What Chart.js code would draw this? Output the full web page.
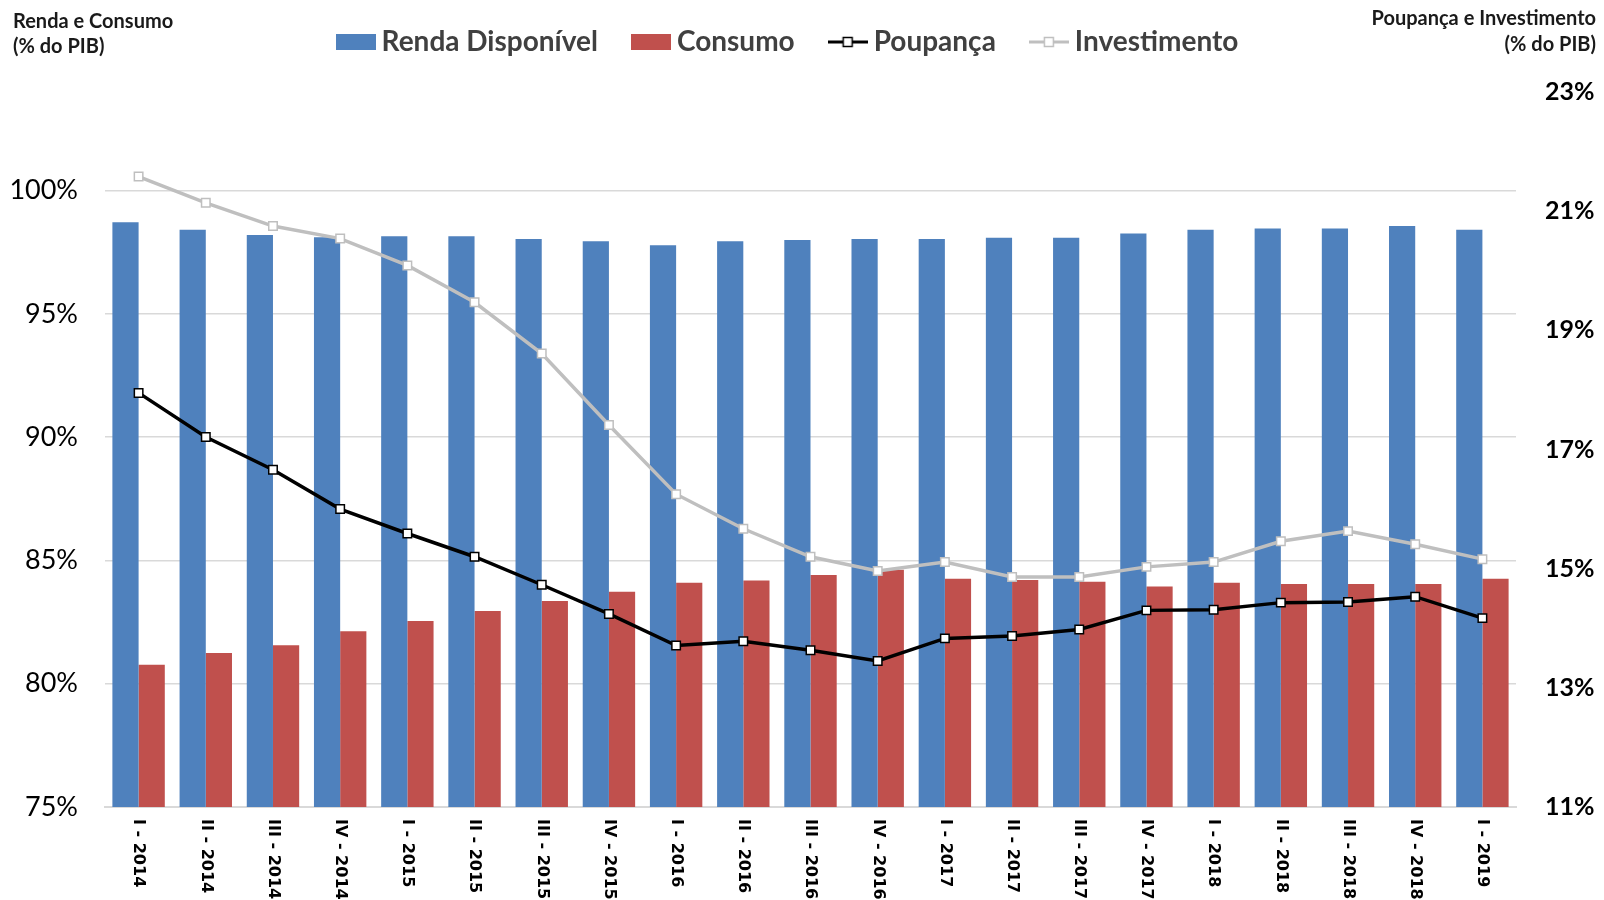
<!DOCTYPE html>
<html>
<head>
<meta charset="utf-8">
<script src="https://cdn.jsdelivr.net/npm/chart.js@4"></script>
<style>
  body { margin: 0; background: #fff; }
  #wrap { width: 1604px; height: 900px; position: relative; }
</style>
</head>
<body>
<div id="wrap"><canvas id="chart"></canvas></div>
<script>
const quarters = ['I - 2014', 'II - 2014', 'III - 2014', 'IV - 2014',
  'I - 2015', 'II - 2015', 'III - 2015', 'IV - 2015',
  'I - 2016', 'II - 2016', 'III - 2016', 'IV - 2016',
  'I - 2017', 'II - 2017', 'III - 2017', 'IV - 2017',
  'I - 2018', 'II - 2018', 'III - 2018', 'IV - 2018', 'I - 2019'];

// % do PIB, eixo esquerdo
const renda = [98.72, 98.41, 98.2, 98.11, 98.15, 98.15, 98.04, 97.95, 97.78, 97.95, 98.0,
  98.04, 98.04, 98.09, 98.09, 98.26, 98.41, 98.46, 98.46, 98.56, 98.41];
const consumo = [80.77, 81.25, 81.56, 82.13, 82.54, 82.95, 83.36, 83.73, 84.1, 84.19, 84.41,
  84.62, 84.26, 84.21, 84.14, 83.94, 84.1, 84.04, 84.04, 84.04, 84.26];

// % do PIB, eixo direito
const poupanca = [17.95, 17.21, 16.66, 16.0, 15.59, 15.2, 14.73, 14.24, 13.71, 13.78, 13.63,
  13.45, 13.83, 13.87, 13.98, 14.3, 14.31, 14.43, 14.44, 14.53, 14.17];
const investimento = [21.58, 21.14, 20.75, 20.54, 20.09, 19.47, 18.61, 17.41, 16.25, 15.67, 15.2,
  14.96, 15.11, 14.86, 14.86, 15.03, 15.11, 15.46, 15.63, 15.41, 15.16];

const leftTicks = [75, 80, 85, 90, 95, 100];
const rightTicks = [11, 13, 15, 17, 19, 21, 23];

const BLUE = '#4f81bd';
const RED = '#c0504d';
const GRAY = '#bfbfbf';

// legend swatches
function swatch(kind, color) {
  const c = document.createElement('canvas');
  c.width = 40; c.height = 18;
  const g = c.getContext('2d');
  if (kind === 'box') {
    g.fillStyle = color;
    g.fillRect(0, 1, 40, 16);
  } else {
    g.strokeStyle = color;
    g.lineWidth = 3;
    g.beginPath(); g.moveTo(0, 9); g.lineTo(40, 9); g.stroke();
    g.fillStyle = '#fff';
    g.lineWidth = 1.5;
    g.fillRect(15.5, 4.5, 9, 9);
    g.strokeRect(15.5, 4.5, 9, 9);
  }
  return c;
}

const extras = {
  id: 'extras',
  beforeInit(chart) {
    const fit = chart.legend.fit;
    chart.legend.fit = function () {
      fit.bind(chart.legend)();
      this.height = 92;
    };
  },
  afterLayout(chart) {
    // nudge legend up/left like the original
    const lg = chart.legend;
    lg.top -= 13; lg.bottom -= 13;
    lg.left -= 11; lg.right -= 11;
  },
  afterDraw(chart) {
    const ctx = chart.ctx;
    const x = chart.scales.x;
    ctx.save();
    ctx.fillStyle = '#000';
    ctx.font = 'bold 16px "DejaVu Sans"';
    ctx.textAlign = 'left';
    ctx.textBaseline = 'middle';
    quarters.forEach((q, i) => {
      ctx.save();
      ctx.translate(x.getPixelForTick(i), chart.chartArea.bottom + 12);
      ctx.rotate(Math.PI / 2);
      ctx.fillText(q, 0, 0);
      ctx.restore();
    });
    ctx.font = 'bold 20px Lato';
    ctx.fillStyle = '#1a1a1a';
    ctx.textAlign = 'left';
    ctx.fillText('Renda e Consumo', 13, 22);
    ctx.fillText('(% do PIB)', 13, 47);
    ctx.textAlign = 'right';
    ctx.fillText('Poupança e Investimento', 1596, 19);
    ctx.fillText('(% do PIB)', 1596, 45);
    ctx.restore();
  }
};

new Chart(document.getElementById('chart'), {
  data: {
    labels: quarters,
    datasets: [
      { type: 'bar', label: 'Renda Disponível', data: renda, yAxisID: 'y',
        backgroundColor: BLUE, order: 2 },
      { type: 'bar', label: 'Consumo', data: consumo, yAxisID: 'y',
        backgroundColor: RED, order: 2 },
      { type: 'line', label: 'Poupança', data: poupanca, yAxisID: 'y1',
        borderColor: '#000', borderWidth: 3.5, pointStyle: 'rect', pointRadius: 6,
        pointBackgroundColor: '#fff', pointBorderColor: '#000', pointBorderWidth: 1.5,
        tension: 0, order: 1 },
      { type: 'line', label: 'Investimento', data: investimento, yAxisID: 'y1',
        borderColor: GRAY, borderWidth: 3.5, pointStyle: 'rect', pointRadius: 6,
        pointBackgroundColor: '#fff', pointBorderColor: GRAY, pointBorderWidth: 1.5,
        tension: 0, order: 1 }
    ]
  },
  options: {
    responsive: true,
    maintainAspectRatio: false,
    animation: false,
    layout: { padding: 0 },
    datasets: { bar: { categoryPercentage: 0.78, barPercentage: 1.0 } },
    plugins: {
      tooltip: { enabled: false },
      legend: {
        labels: {
          usePointStyle: true,
          pointStyleWidth: 24,
          boxHeight: 30,
          padding: 41,
          color: '#404040',
          font: { family: 'Lato', size: 28, weight: 'bold' },
          generateLabels(chart) {
            return chart.data.datasets.map((ds, i) => ({
              text: ds.label,
              datasetIndex: i,
              fontColor: '#404040',
              pointStyle: swatch(ds.type === 'bar' ? 'box' : 'line',
                ds.type === 'bar' ? ds.backgroundColor : ds.borderColor),
              hidden: false,
              lineWidth: 0
            }));
          }
        }
      }
    },
    scales: {
      x: {
        grid: { display: false },
        border: { color: '#d9d9d9', width: 2 },
        ticks: { display: false },
        afterFit(axis) { axis.height = 93; }
      },
      y: {
        position: 'left',
        min: 75, max: 104,
        afterBuildTicks(axis) { axis.ticks = leftTicks.map(v => ({ value: v })); },
        afterFit(axis) { axis.width = 105; },
        grid: { color: '#d9d9d9', lineWidth: 1.5, drawTicks: false },
        border: { display: false },
        ticks: {
          padding: 27, color: '#000',
          font: { family: 'Lato', size: 27 },
          callback: v => v + '%'
        }
      },
      y1: {
        position: 'right',
        min: 11, max: 23,
        afterBuildTicks(axis) { axis.ticks = rightTicks.map(v => ({ value: v })); },
        afterFit(axis) { axis.width = 88; },
        grid: { display: false, drawTicks: false },
        border: { display: false },
        ticks: {
          padding: 29, color: '#000',
          font: { family: 'Lato', size: 25, weight: 'bold' },
          callback: v => v + '%'
        }
      }
    }
  },
  plugins: [extras]
});
</script>
</body>
</html>
